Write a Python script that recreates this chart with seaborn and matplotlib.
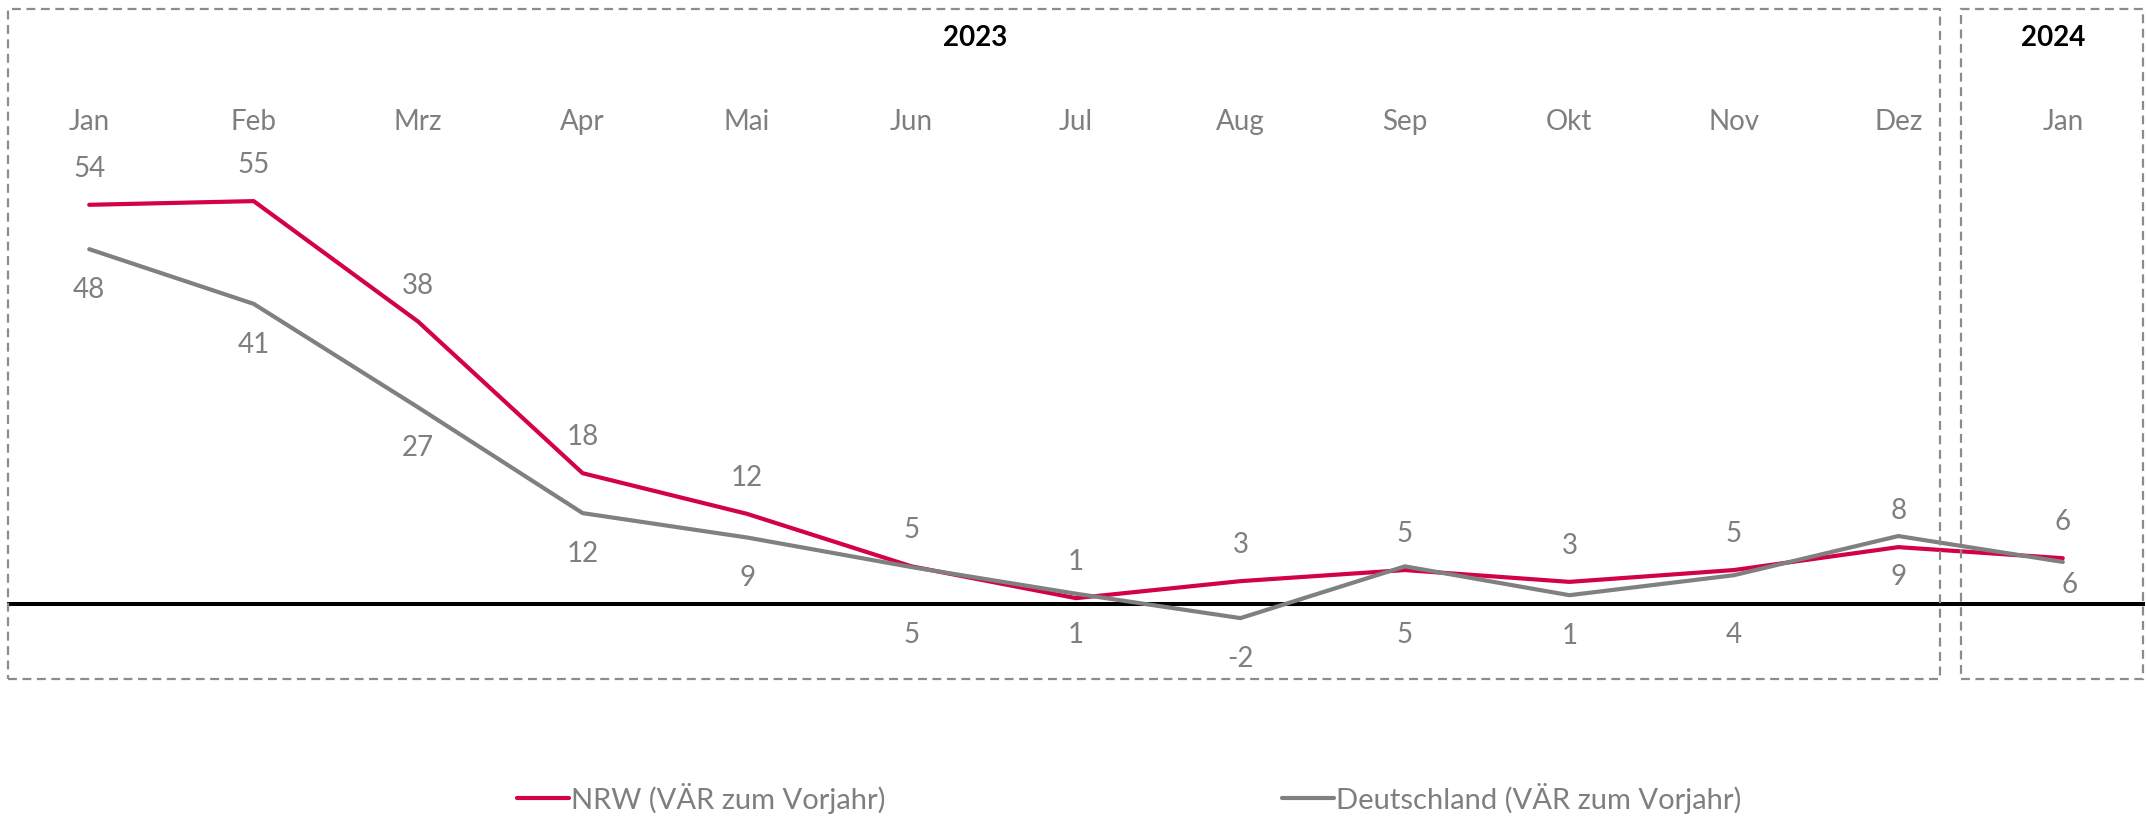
import pandas as pd
import seaborn as sns
import matplotlib.pyplot as plt
from matplotlib.patches import Rectangle
from matplotlib.lines import Line2D

# Daten (Veränderungsrate zum Vorjahr, in %)
months = ['Jan', 'Feb', 'Mrz', 'Apr', 'Mai', 'Jun', 'Jul', 'Aug', 'Sep', 'Okt', 'Nov', 'Dez', 'Jan']
nrw = [54.0, 54.5, 38.2, 17.7, 12.2, 5.1, 0.8, 3.1, 4.6, 3.0, 4.6, 7.7, 6.2]
deutschland = [48.0, 40.6, 26.6, 12.3, 9.0, 5.0, 1.4, -1.9, 5.1, 1.2, 3.9, 9.2, 5.7]
nrw_labels = ['54', '55', '38', '18', '12', '5', '1', '3', '5', '3', '5', '8', '6']
de_labels = ['48', '41', '27', '12', '9', '5', '1', '-2', '5', '1', '4', '9', '6']
years = ['2023', '2024']

name_nrw = 'NRW (VÄR zum Vorjahr)'
name_de = 'Deutschland (VÄR zum Vorjahr)'
red = '#d3004c'
grey = '#808080'
txt = '#7f7f7f'

sns.set_style('white')
plt.rcParams['font.family'] = ['Lato', 'DejaVu Sans']

df = pd.DataFrame({
    'pos': list(range(len(months))) * 2,
    'wert': nrw + deutschland,
    'reihe': [name_nrw] * len(months) + [name_de] * len(months),
})

W, H = 2146, 817
fig = plt.figure(figsize=(W / 100, H / 100), dpi=100)
ax = fig.add_axes([7 / W, 0, 2138 / W, 1])

sns.lineplot(data=df, x='pos', y='wert', hue='reihe', palette={name_nrw: red, name_de: grey},
             linewidth=3, ax=ax, legend=False)

ax.axhline(0, color='black', linewidth=2.9, zorder=1)
ax.set_xlim(-0.5, 12.5)
ax.set_ylim(-28.8, 81.7)
ax.axis('off')
px = (H / (81.7 + 28.8))  # Pixel je Einheit

# Monatsnamen oben
for i, m in enumerate(months):
    ax.annotate(m, xy=(i, 1), xycoords=('data', 'axes fraction'), xytext=(0, -122 * 0.72),
                textcoords='offset points', ha='center', va='center', fontsize=20, color=txt)

# Werte: NRW oberhalb, Deutschland unterhalb der Linie
for i in range(len(months)):
    ax.annotate(nrw_labels[i], xy=(i, nrw[i]), xytext=(0, 26), textcoords='offset points',
                ha='center', va='center', fontsize=20, color=txt)
    below = deutschland[i] * px - 41
    if i == len(months) - 1:
        ax.annotate(de_labels[i], xy=(i, 0), xytext=(5, 14), textcoords='offset points',
                    ha='center', va='center', fontsize=20, color=txt)
    elif abs(below) < 25:
        # würde die Nulllinie überdecken -> unter die Nulllinie
        ax.annotate(de_labels[i], xy=(i, 0), xytext=(0, -22), textcoords='offset points',
                    ha='center', va='center', fontsize=20, color=txt)
    else:
        ax.annotate(de_labels[i], xy=(i, deutschland[i]), xytext=(0, -29.5),
                    textcoords='offset points', ha='center', va='center', fontsize=20, color=txt)

# Jahres-Boxen
boxes = [(8, 1940), (1961, 2143)]
for (x0, x1), year in zip(boxes, years):
    fig.patches.append(Rectangle((x0 / W, 1 - 679 / H), (x1 - x0) / W, (679 - 9) / H,
                                 transform=fig.transFigure, fill=False, edgecolor='#8c8c8c',
                                 linewidth=1.6, linestyle=(0, (4, 2.5))))
fig.text(975 / W, 1 - 38 / H, years[0], ha='center', va='center', fontsize=20,
         fontweight='bold', color='black')
fig.text(2053 / W, 1 - 38 / H, years[1], ha='center', va='center', fontsize=20,
         fontweight='bold', color='black')

# Legende
for (x0, x1), col, name in [((517, 569), red, name_nrw), ((1282, 1334), grey, name_de)]:
    fig.lines.append(Line2D([x0 / W, x1 / W], [1 - 798 / H] * 2, transform=fig.transFigure,
                            color=col, linewidth=3))
    fig.text((x1 + 2) / W, 1 - 798 / H, name, ha='left', va='center', fontsize=21, color=txt)

fig.savefig('out.png', dpi=100)
